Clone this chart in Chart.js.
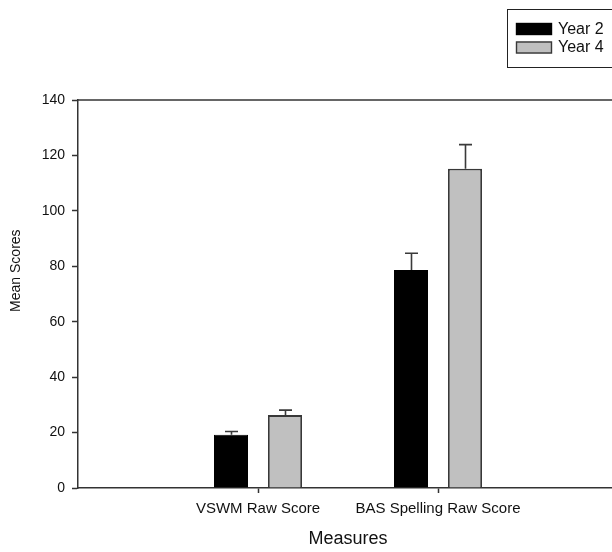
<!DOCTYPE html>
<html>
<head>
<meta charset="utf-8">
<script src="https://cdn.jsdelivr.net/npm/chart.js@4/dist/chart.umd.min.js"></script>
<style>
html,body{margin:0;padding:0;background:#fff;overflow:hidden;}
#wrap{width:612px;height:552px;overflow:hidden;position:relative;}
canvas{display:block;}
</style>
</head>
<body>
<div id="wrap"><canvas id="c" width="640" height="552"></canvas></div>
<script>
const categories = ["VSWM Raw Score", "BAS Spelling Raw Score"];
const seriesNames = ["Year 2", "Year 4"];
const year2Means = [19.2, 78.7];
const year2Errors = [1.2, 6.0];
const year4Means = [26.3, 115.2];
const year4Errors = [1.8, 8.7];
const yTicks = [0, 20, 40, 60, 80, 100, 120, 140];

const FONT = "'Liberation Sans', Arial, Helvetica, sans-serif";
const AXIS_COLOR = "#333333";

// pad with empty slots so the categories sit at the reference positions
const labels = [""].concat(categories, [""]);
const pad = arr => [null].concat(arr, [null]);
const errs = [pad(year2Errors), pad(year4Errors)];

const errorBars = {
  id: 'errorBars',
  afterDatasetsDraw(chart) {
    const ctx = chart.ctx;
    const y = chart.scales.y;
    ctx.save();
    ctx.strokeStyle = "#3a3a3a";
    ctx.lineWidth = 1.6;
    chart.data.datasets.forEach((ds, di) => {
      const meta = chart.getDatasetMeta(di);
      meta.data.forEach((bar, i) => {
        const v = ds.data[i], e = errs[di][i];
        if (v == null || e == null) return;
        const y0 = y.getPixelForValue(v);
        const y1 = y.getPixelForValue(v + e);
        const x = Math.round(bar.x) + 0.5;
        ctx.beginPath();
        ctx.moveTo(x, y0);
        ctx.lineTo(x, y1);
        ctx.moveTo(x - 6.5, y1);
        ctx.lineTo(x + 6.5, y1);
        ctx.stroke();
      });
    });
    ctx.restore();
  }
};

const frame = {
  id: 'frame',
  afterDraw(chart) {
    const ctx = chart.ctx;
    const a = chart.chartArea;
    ctx.save();
    ctx.strokeStyle = AXIS_COLOR;
    ctx.lineWidth = 1.5;
    ctx.beginPath();
    ctx.moveTo(a.left, a.top);
    ctx.lineTo(a.right, a.top);
    ctx.stroke();
    // legend box
    ctx.lineWidth = 1;
    ctx.strokeStyle = "#222222";
    ctx.strokeRect(507.5, 9.5, 112, 58);
    const rows = [29, 47.5];
    chart.data.datasets.forEach((ds, i) => {
      const cy = rows[i];
      ctx.fillStyle = ds.backgroundColor;
      ctx.fillRect(516, cy - 6, 36, 12);
      ctx.strokeStyle = ds.borderColor;
      ctx.lineWidth = 1.4;
      ctx.strokeRect(516.5, cy - 5.5, 35, 11);
      ctx.fillStyle = "#111111";
      ctx.font = "16px " + FONT;
      ctx.textBaseline = "middle";
      ctx.textAlign = "left";
      ctx.fillText(ds.label, 558, cy + 0.5);
    });
    ctx.restore();
  }
};

new Chart(document.getElementById('c'), {
  type: 'bar',
  data: {
    labels: labels,
    datasets: [
      { label: seriesNames[0], data: pad(year2Means), backgroundColor: "#000000", borderColor: "#000000", borderWidth: 1 },
      { label: seriesNames[1], data: pad(year4Means), backgroundColor: "#c0c0c0", borderColor: "#383838", borderWidth: 1.8 }
    ]
  },
  options: {
    responsive: false,
    animation: false,
    devicePixelRatio: 1,
    categoryPercentage: 0.6,
    barPercentage: 0.63,
    layout: { padding: { top: 100, right: 22, left: 0, bottom: 0 } },
    plugins: { legend: { display: false }, tooltip: { enabled: false } },
    scales: {
      x: {
        offset: false,
        grid: {
          offset: false,
          drawOnChartArea: false,
          tickLength: 5,
          tickWidth: 1.5,
          color: ctx => (ctx.tick && ctx.tick.label === "") ? "rgba(0,0,0,0)" : AXIS_COLOR
        },
        border: { display: true, color: AXIS_COLOR, width: 1.5 },
        ticks: { color: "#111111", font: { family: FONT, size: 15 }, padding: 7, maxRotation: 0, autoSkip: false },
        title: { display: true, text: "Measures", color: "#111111", font: { family: FONT, size: 18 }, padding: { top: 4, bottom: 2 } },
        afterFit(s) { s.height = 64; }
      },
      y: {
        min: 0, max: 140,
        afterBuildTicks(s) { s.ticks = yTicks.map(v => ({ value: v })); },
        grid: { drawOnChartArea: false, tickLength: 6, tickWidth: 1.5, color: AXIS_COLOR },
        border: { display: true, color: AXIS_COLOR, width: 1.5 },
        ticks: { color: "#111111", font: { family: FONT, size: 14 }, padding: 7 },
        title: { display: true, text: "            Mean Scores", color: "#111111", font: { family: FONT, size: 14 }, padding: { top: 8, bottom: 0 } },
        afterFit(s) { s.width = 78; }
      }
    }
  },
  plugins: [errorBars, frame]
});
</script>
</body>
</html>
